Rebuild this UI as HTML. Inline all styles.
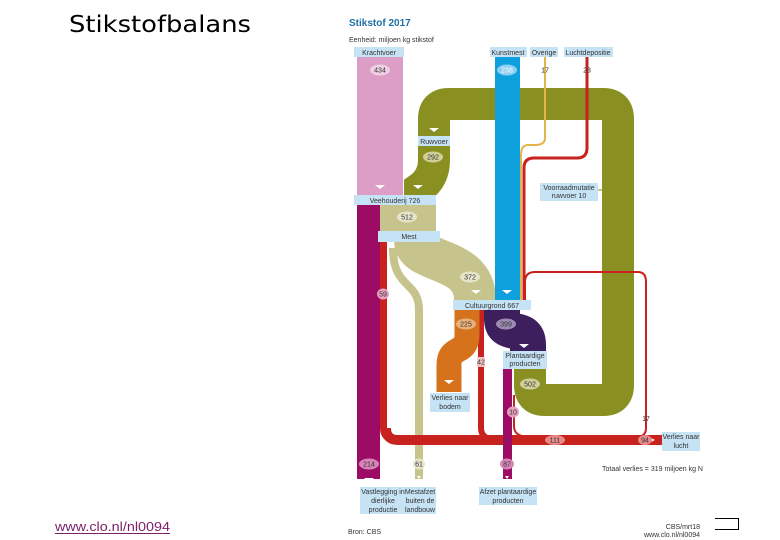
<!DOCTYPE html>
<html><head><meta charset="utf-8"><style>
html,body{margin:0;padding:0;background:#fff;}
svg{display:block;}
text{font-family:"Liberation Sans",sans-serif;}
.l{font-size:7px;fill:#333;}
</style></head><body>
<svg width="780" height="540" viewBox="0 0 780 540" xmlns="http://www.w3.org/2000/svg">
<text x="69" y="32" style="font-family:'DejaVu Sans',sans-serif" font-size="23" fill="#000" textLength="182" lengthAdjust="spacingAndGlyphs">Stikstofbalans</text>
<text x="55" y="531" font-size="13" fill="#7a1f6a" textLength="115" lengthAdjust="spacingAndGlyphs">www.clo.nl/nl0094</text>
<line x1="55" y1="533.5" x2="170" y2="533.5" stroke="#7a1f6a" stroke-width="1"/>
<path d="M715 518.5 H738.5 V529.5 H715" fill="none" stroke="#000" stroke-width="1"/>

<text x="349" y="26" font-size="10" fill="#1e6fa5" font-weight="bold">Stikstof 2017</text>
<text x="349" y="42" class="l">Eenheid: miljoen kg stikstof</text>

<path d="M530 368 L530 385 Q530 400 545 400 L603 400 Q618 400 618 385 L618 119 Q618 104 603 104 L449 104 Q434 104 434 119 L434 160 Q434 178 420 188 L420 196" fill="none" stroke="#8a8f22" stroke-width="32"/>
<rect x="357" y="57" width="46" height="139" fill="#dc9ec6"/>
<rect x="357" y="205" width="23" height="274" fill="#9c0c64"/>
<rect x="380" y="205" width="56" height="37" fill="#c6c48c"/>
<path d="M415 240 C415 265 475 255 475 300" fill="none" stroke="#c6c48c" stroke-width="42"/>
<path d="M393 248 C393 290 419 280 419 310 L419 479" fill="none" stroke="#c6c48c" stroke-width="8"/>
<path d="M383.5 242 L383.5 428 Q383.5 440 398 440 L662 440" fill="none" stroke="#c8221f" stroke-width="7"/>
<path d="M386 428 Q386 440 398 440 L662 440" fill="none" stroke="#c8221f" stroke-width="10"/>
<path d="M481 310 L481 428 Q481 438 493 440" fill="none" stroke="#c8221f" stroke-width="6"/>
<path d="M525 300 L525 282 Q525 272 535 272 L638 272 Q646 272 646 282 L646 428 Q646 436 638 437" fill="none" stroke="#c8221f" stroke-width="2"/>
<path d="M514 395 L514 426 Q514 434 522 436" fill="none" stroke="#c8221f" stroke-width="2"/>
<path d="M587 57 L587 148 Q587 158 577 158 L534 158 Q524 158 524 168 L524 300" fill="none" stroke="#c8221f" stroke-width="3"/>
<path d="M545 57 L545 138 Q545 145 535 145 L528 145 Q521 145 521 155 L521 300" fill="none" stroke="#e3b44a" stroke-width="2"/>
<rect x="495" y="57" width="25" height="243" fill="#0ea0dd"/>
<path d="M467 310 L467 335 C467 355 449 345 449 365 L449 392" fill="none" stroke="#d6721c" stroke-width="25"/>
<path d="M502 310 L502 318 C502 340 528 322 528 345 L528 352" fill="none" stroke="#3e1f5e" stroke-width="36"/>
<rect x="503" y="369" width="9" height="110" fill="#9c0c64"/>

<g fill="#fff">
<path d="M375 185 h10 l-5 4z"/><path d="M413 185 h10 l-5 4z"/><path d="M429 128 h10 l-5 4z"/>
<path d="M471 290 h10 l-5 4z"/><path d="M502 290 h10 l-5 4z"/><path d="M519 344 h10 l-5 4z"/>
<path d="M444 380 h10 l-5 4z"/><path d="M364 478 h10 l-5 4z"/><path d="M417 476 h4 l-2 3z"/>
<path d="M505 476 h4 l-2 3z"/><path d="M651 438 l4 2 l-4 2z"/>
</g>

<g fill="#c6e2f5">
<rect x="354" y="47" width="50" height="10"/><rect x="490" y="47" width="37" height="10"/>
<rect x="530" y="47" width="28" height="10"/><rect x="564" y="47" width="49" height="10"/>
<rect x="418" y="136" width="32" height="10"/><rect x="354" y="195" width="82" height="10"/>
<rect x="378" y="231" width="62" height="11"/><rect x="453" y="300" width="78" height="10"/>
<rect x="540" y="183" width="58" height="18"/><rect x="503" y="351" width="44" height="18"/>
<rect x="430" y="393" width="40" height="19"/><rect x="662" y="432" width="38" height="19"/>
<rect x="360" y="487" width="47" height="27"/><rect x="404" y="487" width="32" height="27"/>
<rect x="479" y="487" width="58" height="18"/>
</g>
<g class="l" text-anchor="middle">
<text x="379" y="55">Krachtvoer</text><text x="508" y="55">Kunstmest</text>
<text x="544" y="55">Overige</text><text x="588" y="55">Luchtdepositie</text>
<text x="434" y="144">Ruwvoer</text><text x="395" y="203">Veehouderij 726</text>
<text x="409" y="239">Mest</text><text x="492" y="308">Cultuurgrond 667</text>
<text x="569" y="190">Voorraadmutatie</text><text x="569" y="198">ruwvoer 10</text>
<text x="525" y="358">Plantaardige</text><text x="525" y="366">producten</text>
<text x="450" y="400">Verlies naar</text><text x="450" y="409">bodem</text>
<text x="681" y="439">Verlies naar</text><text x="681" y="448">lucht</text>
<text x="383" y="494">Vastlegging in</text><text x="383" y="503">dierlijke</text><text x="383" y="512">productie</text>
<text x="420" y="494">Mestafzet</text><text x="420" y="503">buiten de</text><text x="420" y="512">landbouw</text>
<text x="508" y="494">Afzet plantaardige</text><text x="508" y="503">producten</text>
</g>
<line x1="598" y1="190" x2="603" y2="190" stroke="#8a8f22" stroke-width="1"/>

<g>
<ellipse cx="380" cy="70" rx="10" ry="5.5" fill="#f0cfe3"/><ellipse cx="507" cy="70" rx="10" ry="5.5" fill="#8fd0f0"/>
<ellipse cx="433" cy="157" rx="10" ry="5.5" fill="#cfcf9a"/><ellipse cx="407" cy="217" rx="10" ry="5.5" fill="#e6e5cc"/>
<ellipse cx="470" cy="277" rx="10" ry="5.5" fill="#e6e5cc"/><ellipse cx="383" cy="294" rx="6" ry="5.5" fill="#e7a0c0"/>
<ellipse cx="466" cy="324" rx="10" ry="5.5" fill="#eab07a"/><ellipse cx="506" cy="324" rx="10" ry="5.5" fill="#9c8cb4"/>
<ellipse cx="530" cy="384" rx="10" ry="5.5" fill="#cfcf9a"/><ellipse cx="513" cy="412" rx="6" ry="5.5" fill="#e7a0c0"/>
<ellipse cx="555" cy="440" rx="10" ry="5" fill="#e88a8a"/><ellipse cx="645" cy="440" rx="7" ry="5" fill="#e88a8a"/>
<ellipse cx="369" cy="464" rx="10" ry="5.5" fill="#d785b8"/><ellipse cx="419" cy="464" rx="6" ry="5.5" fill="#e6e5cc"/>
<ellipse cx="507" cy="464" rx="7" ry="5.5" fill="#d785b8"/><rect x="477" y="357" width="8" height="10" fill="#f3c4c4"/>
</g>
<g class="l" text-anchor="middle">
<text x="380" y="72.5">434</text><text x="507" y="72.5" fill="#fff">238</text><text x="545" y="72.5">17</text><text x="587" y="72.5">23</text>
<text x="433" y="159.5">292</text><text x="407" y="219.5">512</text><text x="470" y="279.5">372</text><text x="383" y="296.5">59</text>
<text x="466" y="326.5">225</text><text x="506" y="326.5">399</text><text x="481" y="364.5">42</text><text x="530" y="386.5">502</text>
<text x="513" y="414.5">10</text><text x="646" y="421">17</text><text x="555" y="442.5">111</text><text x="645" y="442.5">94</text>
<text x="369" y="466.5">214</text><text x="419" y="466.5">61</text><text x="507" y="466.5">87</text>
</g>
<text x="602" y="471" class="l">Totaal verlies = 319 miljoen kg N</text>
<text x="348" y="534" class="l">Bron: CBS</text>
<text x="700" y="529" class="l" text-anchor="end" font-size="6">CBS/mrt18</text>
<text x="700" y="537" class="l" text-anchor="end" font-size="6">www.clo.nl/nl0094</text>
</svg>
</body></html>
